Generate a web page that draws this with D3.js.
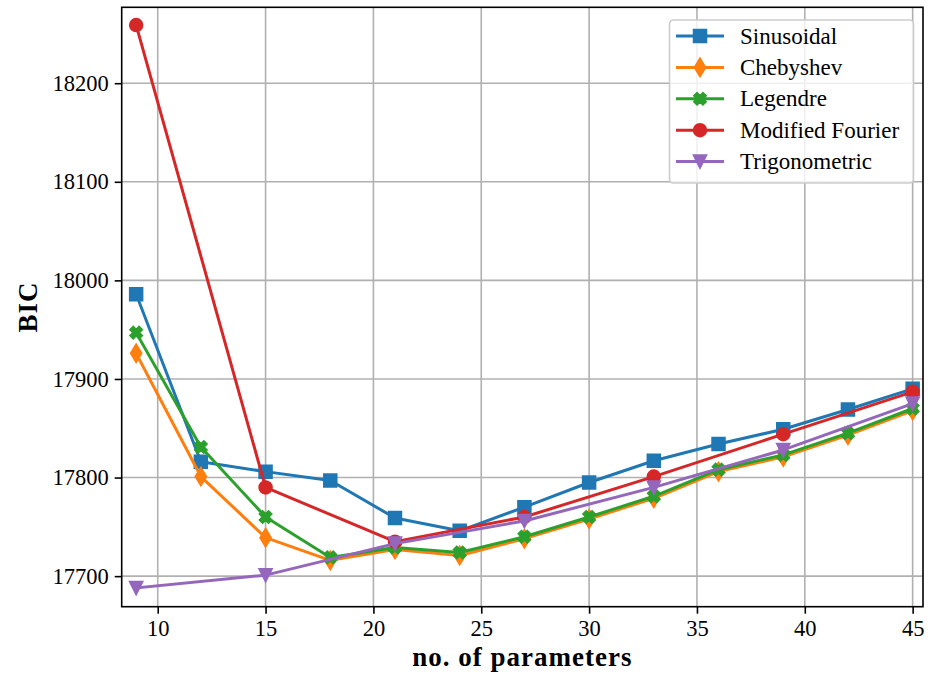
<!DOCTYPE html>
<html>
<head>
<meta charset="utf-8">
<script src="https://cdn.jsdelivr.net/npm/d3@7"></script>
<style>
  body { margin: 0; background: #fff; }
  text { font-family: 'Liberation Serif', 'Times New Roman', serif; }
</style>
</head>
<body>
<div id="chart"></div>
<script>
// data
const paramsFull = [9, 12, 15, 18, 21, 24, 27, 30, 33, 36, 39, 42, 45];
const paramsHalf = [9, 15, 21, 27, 33, 39, 45];
const sinusoidal = [17986, 17816, 17806, 17797, 17759, 17746, 17770, 17795, 17817, 17834, 17849, 17869, 17890];
const chebyshev = [17926, 17801, 17739, 17716, 17727, 17721, 17738, 17758, 17779, 17806, 17821, 17843, 17868];
const legendre = [17947, 17831, 17760, 17719, 17729, 17724, 17740, 17760, 17781, 17808, 17823, 17845, 17870];
const modFourier = [18259, 17790, 17735, 17760, 17801, 17844, 17887];
const trigonometric = [17688, 17701, 17733, 17756, 17790, 17828, 17875];
const xTicks = [10, 15, 20, 25, 30, 35, 40, 45];
const yTicks = [17700, 17800, 17900, 18000, 18100, 18200];

const series = [
  { name: 'Sinusoidal', xs: paramsFull, ys: sinusoidal, color: '#1f77b4', marker: 'square' },
  { name: 'Chebyshev', xs: paramsFull, ys: chebyshev, color: '#ff7f0e', marker: 'thinDiamond' },
  { name: 'Legendre', xs: paramsFull, ys: legendre, color: '#2ca02c', marker: 'xFilled' },
  { name: 'Modified Fourier', xs: paramsHalf, ys: modFourier, color: '#d62728', marker: 'circle' },
  { name: 'Trigonometric', xs: paramsHalf, ys: trigonometric, color: '#9467bd', marker: 'triDown' }
];

const w = 933;
const h = 674;
const margin = { top: 7.3, left: 121.7, right: 10, bottom: 67.3 };

const svg = d3.select('#chart').append('svg').attr('width', w).attr('height', h);

const x = d3.scaleLinear().domain([8.33, 45.48]).range([margin.left, w - margin.right]);
const y = d3.scaleLinear().domain([17669, 18277]).range([h - margin.bottom, margin.top]);

// grid
svg.append('g')
  .selectAll('line')
  .data(xTicks)
  .enter()
  .append('line')
  .attr('x1', d => x(d)).attr('x2', d => x(d))
  .attr('y1', margin.top).attr('y2', h - margin.bottom)
  .attr('stroke', '#b0b0b0').attr('stroke-width', 1.6);
svg.append('g')
  .selectAll('line')
  .data(yTicks)
  .enter()
  .append('line')
  .attr('y1', d => y(d)).attr('y2', d => y(d))
  .attr('x1', margin.left).attr('x2', w - margin.right)
  .attr('stroke', '#b0b0b0').attr('stroke-width', 1.6);

// marker shapes (sizes in px)
const ms = 12.5;
const plusPts = [[-1, -3], [-1, -1], [-3, -1], [-3, 1], [-1, 1], [-1, 3], [1, 3], [1, 1], [3, 1], [3, -1], [1, -1], [1, -3]];
const markerPath = {
  square: () => d3.symbol(d3.symbolSquare, ms * ms)(),
  circle: () => d3.symbol(d3.symbolCircle, Math.PI * (ms / 2) * (ms / 2))(),
  thinDiamond: () => {
    const r = ms * Math.SQRT1_2;
    return `M0,${-r}L${0.6 * r},0L0,${r}L${-0.6 * r},0Z`;
  },
  triDown: () => {
    const s = ms / 2;
    return `M0,${s}L${-s},${-s}L${s},${-s}Z`;
  },
  xFilled: () => {
    const a = Math.PI / 4;
    const pts = plusPts.map(([px, py]) => {
      const u = px / 6 * ms, v = py / 6 * ms;
      return [u * Math.cos(a) - v * Math.sin(a), u * Math.sin(a) + v * Math.cos(a)];
    });
    return 'M' + pts.map(p => p.join(',')).join('L') + 'Z';
  }
};

const line = d3.line().x(d => x(d[0])).y(d => y(d[1]));

series.forEach(s => {
  const pts = s.xs.map((v, i) => [v, s.ys[i]]);
  const g = svg.append('g');
  g.append('path')
    .attr('d', line(pts))
    .attr('fill', 'none')
    .attr('stroke', s.color)
    .attr('stroke-width', 3)
    .attr('stroke-linejoin', 'round')
    .attr('stroke-linecap', 'square');
  g.selectAll('path.mk')
    .data(pts)
    .enter()
    .append('path')
    .attr('class', 'mk')
    .attr('d', markerPath[s.marker]())
    .attr('transform', d => `translate(${x(d[0])},${y(d[1])})`)
    .attr('fill', s.color)
    .attr('stroke', s.color)
    .attr('stroke-width', 2)
    .attr('stroke-linejoin', 'miter');
});

// axes
const xAxis = svg.append('g')
  .attr('transform', `translate(0,${h - margin.bottom})`)
  .call(d3.axisBottom(x).tickValues(xTicks).tickSize(7).tickPadding(6).tickSizeOuter(0));
const yAxis = svg.append('g')
  .attr('transform', `translate(${margin.left},0)`)
  .call(d3.axisLeft(y).tickValues(yTicks).tickFormat(d3.format('d')).tickSize(7).tickPadding(6).tickSizeOuter(0));
[xAxis, yAxis].forEach(a => {
  a.select('.domain').remove();
  a.selectAll('line').attr('stroke', '#000').attr('stroke-width', 1.6);
  a.selectAll('text')
    .attr('fill', '#000')
    .style('font-family', "'Liberation Serif', serif")
    .style('font-size', '22.5px');
});

// frame
svg.append('rect')
  .attr('x', margin.left).attr('y', margin.top)
  .attr('width', w - margin.right - margin.left)
  .attr('height', h - margin.bottom - margin.top)
  .attr('fill', 'none').attr('stroke', '#000').attr('stroke-width', 1.6);

// axis labels
svg.append('text')
  .attr('x', (margin.left + w - margin.right) / 2)
  .attr('y', 666)
  .attr('text-anchor', 'middle')
  .attr('font-weight', 'bold')
  .attr('font-size', '27px')
  .attr('letter-spacing', '1px')
  .text('no. of parameters');
svg.append('text')
  .attr('transform', `translate(37,${(margin.top + h - margin.bottom) / 2}) rotate(-90)`)
  .attr('text-anchor', 'middle')
  .attr('font-weight', 'bold')
  .attr('font-size', '27px')
  .attr('letter-spacing', '1px')
  .text('BIC');

// legend
const legend = svg.append('g');
legend.append('rect')
  .attr('x', 669.5).attr('y', 20)
  .attr('width', 244).attr('height', 163)
  .attr('rx', 4)
  .attr('fill', 'rgba(255,255,255,0.8)')
  .attr('stroke', '#cccccc').attr('stroke-width', 1.6);

series.forEach((s, i) => {
  const cy = 36 + i * 31.4;
  const row = legend.append('g');
  row.append('line')
    .attr('x1', 676).attr('x2', 724)
    .attr('y1', cy).attr('y2', cy)
    .attr('stroke', s.color).attr('stroke-width', 3);
  row.append('path')
    .attr('d', markerPath[s.marker]())
    .attr('transform', `translate(700,${cy})`)
    .attr('fill', s.color)
    .attr('stroke', s.color)
    .attr('stroke-width', 2);
  row.append('text')
    .attr('x', 740)
    .attr('y', cy + 7.5)
    .attr('font-size', '23px')
    .text(s.name);
});
</script>
</body>
</html>
